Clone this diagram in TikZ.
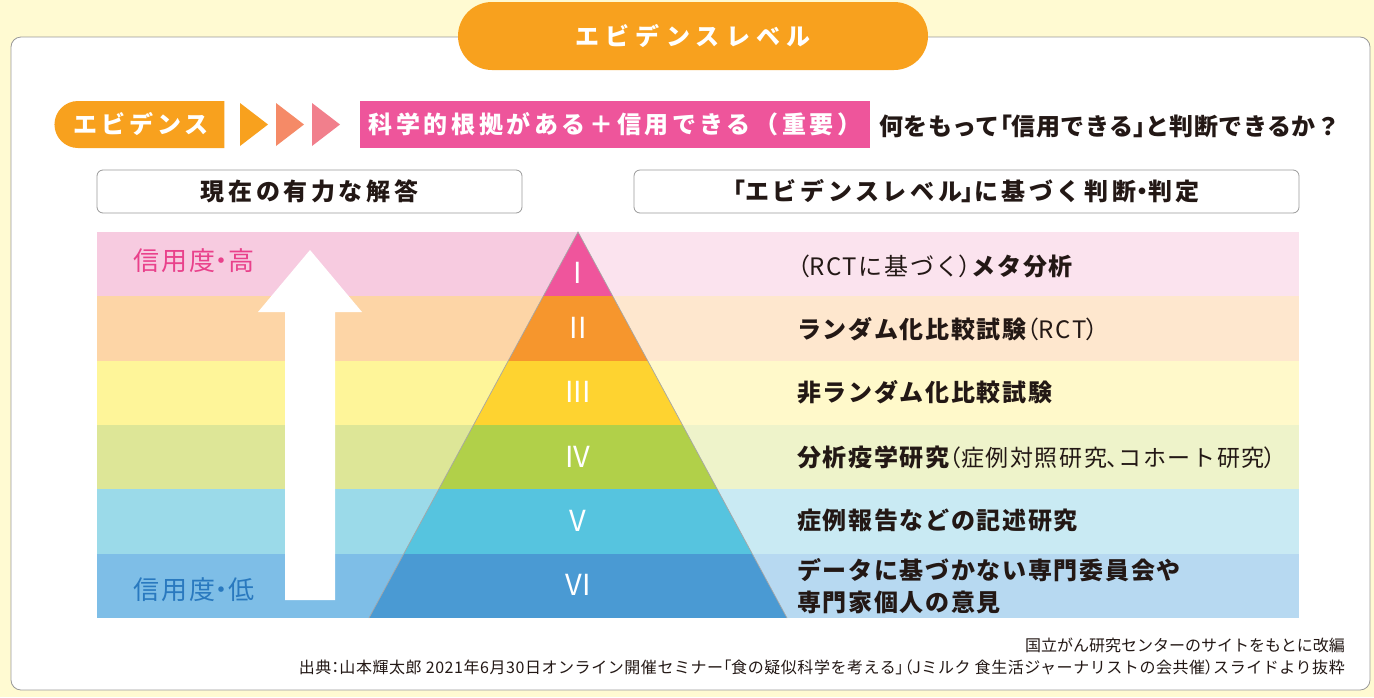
\documentclass[tikz,border=0pt]{standalone}
\usepackage{fontspec}
\setmainfont{Noto Sans CJK JP}
\usetikzlibrary{shapes.misc}
\newcommand\pl[1]{{\addfontfeature{RawFeature=+palt}#1}}
\definecolor{bgyel}{HTML}{FFFAD2}
\definecolor{orA}{HTML}{F8A11E}
\definecolor{pkA}{HTML}{EE559B}
\definecolor{trB}{HTML}{F58A67}
\definecolor{trC}{HTML}{F17F8C}
\definecolor{txt}{HTML}{231815}
\definecolor{hiT}{HTML}{E9418B}
\definecolor{loT}{HTML}{2979BF}
\definecolor{bLa}{HTML}{F7CBE0}\definecolor{bRa}{HTML}{FBE3EE}\definecolor{pa}{HTML}{EF559C}
\definecolor{bLb}{HTML}{FDD5A6}\definecolor{bRb}{HTML}{FEE7CE}\definecolor{pb}{HTML}{F6962D}
\definecolor{bLc}{HTML}{FEF599}\definecolor{bRc}{HTML}{FFF9CA}\definecolor{pc}{HTML}{FED330}
\definecolor{bLd}{HTML}{DDE697}\definecolor{bRd}{HTML}{EEF3CA}\definecolor{pd}{HTML}{B1D049}
\definecolor{bLe}{HTML}{9BDAE9}\definecolor{bRe}{HTML}{C9EAF3}\definecolor{pe}{HTML}{56C4DF}
\definecolor{bLf}{HTML}{7EBEE7}\definecolor{bRf}{HTML}{B7D9F1}\definecolor{pf}{HTML}{4A9AD3}
\begin{document}
\begin{tikzpicture}[x=1pt,y=-1pt,
  bigw/.style={text=white, font=\fontsize{24}{28}\selectfont\bfseries\addfontfeature{LetterSpace=13}},
  hdrbox/.style={draw=gray!80, line width=0.8pt, rounded corners=6pt, fill=white, minimum height=43pt, inner sep=0pt,
     font=\fontsize{24}{28}\selectfont\bfseries\addfontfeature{LetterSpace=15}, text=txt},
  lvl/.style={anchor=west, text=txt, inner sep=0pt, font=\fontsize{24}{28}\selectfont\bfseries\addfontfeature{LetterSpace=7}},
  rom/.style={text=white, inner sep=0pt, font=\fontsize{29}{30}\selectfont\mdseries},
  side/.style={anchor=west, inner sep=0pt, font=\fontsize{26}{28}\selectfont\addfontfeature{LetterSpace=8}},
  foot/.style={anchor=east, inner sep=0pt, text=txt, font=\fontsize{16}{18}\selectfont}]
\useasboundingbox (0,0) rectangle (1374,697);
\fill[bgyel] (0,0) rectangle (1374,697);
% panel
\node (panel) [draw=gray!80, line width=0.8pt, fill=white, rounded corners=10pt, minimum width=1359pt, minimum height=653pt, inner sep=0pt] at (690.5,363.5) {};
% title
\node (title) [rounded rectangle, fill=orA, minimum width=470pt, minimum height=68pt, inner sep=0pt, bigw, font=\fontsize{24}{28}\selectfont\bfseries\addfontfeature{LetterSpace=26}] at (693,36) {エビデンスレベル};
% evidence row
\node (evi) [rounded rectangle, rounded rectangle right arc=none, fill=orA, minimum width=170pt, minimum height=47pt, inner sep=0pt, bigw, font=\fontsize{24}{28}\selectfont\bfseries\addfontfeature{LetterSpace=16}] at (141,124.5) {エビデンス};
\fill[orA] (240,103) -- (268,124.5) -- (240,146) -- cycle;
\fill[trB] (276,103) -- (304,124.5) -- (276,146) -- cycle;
\fill[trC] (312,103) -- (340,124.5) -- (312,146) -- cycle;
\node (sci) [fill=pkA, minimum width=510pt, minimum height=47pt, inner sep=0pt, bigw, font=\fontsize{24}{28}\selectfont\bfseries\addfontfeature{LetterSpace=15}] at (615,124.5) {科学的根拠がある＋信用できる（重要）};
\node (q) [anchor=west, inner sep=0pt, text=txt, font=\fontsize{24}{28}\selectfont\bfseries\addfontfeature{LetterSpace=2}] at (879,126) {何をもって\pl{「}信用できる\pl{」}と判断できるか？};
% header boxes
\node (hl) [hdrbox, minimum width=425pt] at (309.5,191.5) {現在の有力な解答};
\node (hr) [hdrbox, minimum width=665pt] at (966.5,191.5) {\pl{「}エビデンスレベル\pl{」}に基づく判断\pl{・}判定};
% bands
\foreach \i/\cl/\cr in {0/bLa/bRa,1/bLb/bRb,2/bLc/bRc,3/bLd/bRd,4/bLe/bRe,5/bLf/bRf}{
  \fill[\cl] (97,{232+\i*64.33}) rectangle (578,{232+(\i+1)*64.33});
  \fill[\cr] (578,{232+\i*64.33}) rectangle (1299,{232+(\i+1)*64.33});
}
% arrow
\fill[white] (285,600) -- (285,312) -- (258,312) -- (310,250) -- (362,312) -- (335,312) -- (335,600) -- cycle;
% pyramid
\begin{scope}
\clip (578,232) -- (369,618) -- (787,618) -- cycle;
\foreach \i/\cp in {0/pa,1/pb,2/pc,3/pd,4/pe,5/pf}{
  \fill[\cp] (360,{232+\i*64.33}) rectangle (800,{232+(\i+1)*64.33});
}
\end{scope}
\draw[gray!70, line width=0.7pt] (369,618) -- (578,232) -- (787,618);
\node (r1) [rom] at (578,273) {I};
\node (r2) [rom] at (578,328) {II};
\node (r3) [rom] at (578,392) {III};
\node (r4) [rom] at (578,457) {IV};
\node (r5) [rom] at (578,521) {V};
\node (r6) [rom] at (578,585) {VI};
% side labels
\node (hi) [side, text=hiT] at (133,261) {信用度\pl{・}高};
\node (lo) [side, text=loT] at (133,590) {信用度\pl{・}低};
% level labels
\node (l1) [lvl] at (797,266) {{\mdseries\pl{（}RCTに基づく\pl{）}}メタ分析};
\node (l2) [lvl] at (797,329) {ランダム化比較試験{\mdseries\pl{（}RCT\pl{）}}};
\node (l3) [lvl] at (797,392) {非ランダム化比較試験};
\node (l4) [lvl] at (797,457) {分析疫学研究{\mdseries\fontsize{23}{24}\selectfont\addfontfeature{LetterSpace=7}\pl{（}症例対照研究\pl{、}コホート研究\pl{）}}};
\node (l5) [lvl] at (797,520) {症例報告などの記述研究};
\node (l6) [lvl, align=left, font=\fontsize{24}{32}\selectfont\bfseries\addfontfeature{LetterSpace=7}] at (797,586) {データに基づかない専門委員会や\\専門家個人の意見};
% footer
\node (f1) [foot] at (1345,645) {国立がん研究センターのサイトをもとに改編};
\node (f2) [foot, font=\fontsize{16}{18}\selectfont\addfontfeature{LetterSpace=3.5}] at (1345,667) {出典\pl{：}山本輝太郎 2021年6月30日オンライン開催セミナー\pl{「}食の疑似科学を考える\pl{」（}Jミルク 食生活ジャーナリストの会共催\pl{）}スライドより抜粋};
\end{tikzpicture}
\end{document}
